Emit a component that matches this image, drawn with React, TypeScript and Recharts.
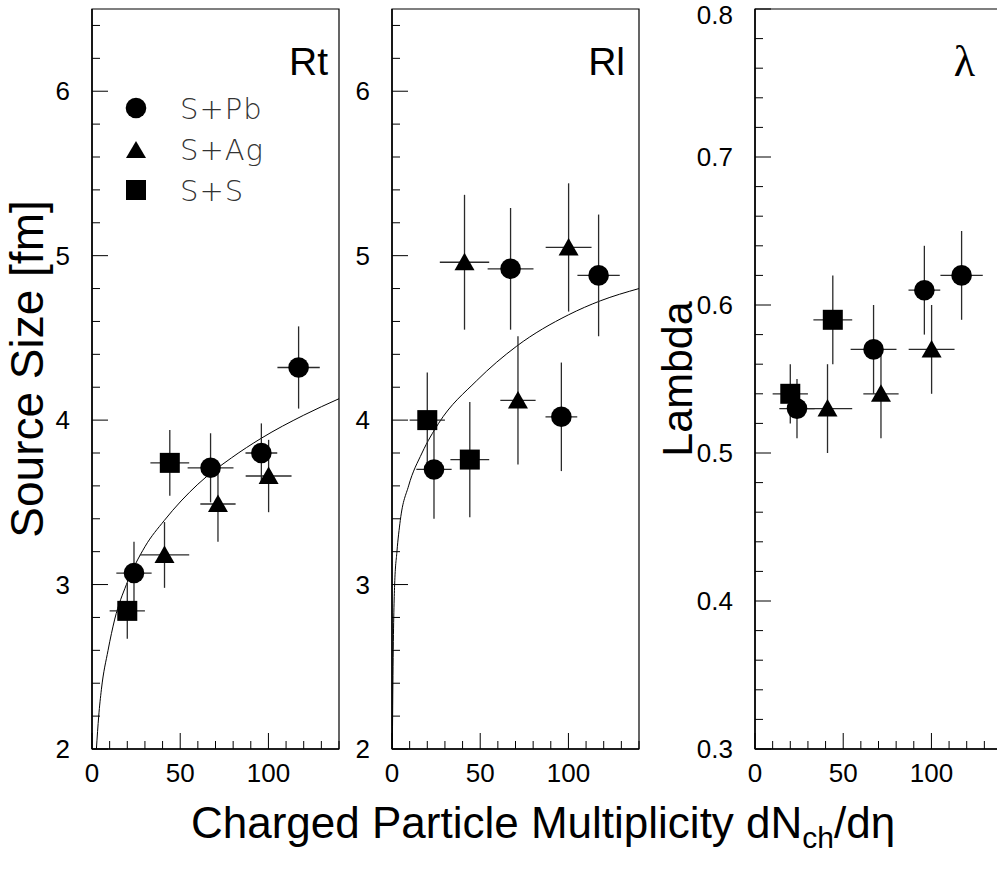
import React from 'react';
import { ComposedChart, Scatter, Line, XAxis, YAxis, ErrorBar, ReferenceArea } from 'recharts';

// multiplicity of each point, shared by the three panels
const pbX = [23.8, 67.2, 96.0, 117.1];
const pbXErr = [10, 13, 9, 12];
const agX = [41.1, 71.4, 100.1];
const agXErr = [14, 10, 13];
const ssX = [20.0, 44.1];
const ssXErr = [10, 11];

// Rt [fm]
const rtPb = [3.07, 3.71, 3.8, 4.32];
const rtPbErr = [0.19, 0.21, 0.18, 0.25];
const rtAg = [3.18, 3.49, 3.66];
const rtAgErr = [0.2, 0.23, 0.22];
const rtSS = [2.84, 3.74];
const rtSSErr = [0.17, 0.2];

// Rl [fm]
const rlPb = [3.7, 4.92, 4.02, 4.88];
const rlPbErr = [0.3, 0.37, 0.33, 0.37];
const rlAg = [4.96, 4.12, 5.05];
const rlAgErr = [0.41, 0.39, 0.39];
const rlSS = [4.0, 3.76];
const rlSSErr = [0.29, 0.35];

// lambda
const lamPb = [0.53, 0.57, 0.61, 0.62];
const lamPbErr = [0.02, 0.03, 0.03, 0.03];
const lamAg = [0.53, 0.54, 0.57];
const lamAgErr = [0.03, 0.03, 0.03];
const lamSS = [0.54, 0.59];
const lamSSErr = [0.02, 0.03];

// fit curves
const rtFitX = [2.5, 3.8, 5.3, 9.1, 12.9, 19.5, 30, 41, 60, 79, 96, 120, 140];
const rtFitY = [2.0, 2.2, 2.36, 2.6, 2.79, 3.0, 3.23, 3.39, 3.61, 3.77, 3.89, 4.03, 4.13];
const rlFitX = [0.2, 0.6, 1.5, 2.8, 4.7, 9.4, 17, 26.4, 48, 70.7, 100, 118, 140];
const rlFitY = [2.0, 2.5, 3.0, 3.2, 3.39, 3.6, 3.8, 3.98, 4.24, 4.45, 4.64, 4.725, 4.8];

// axis ticks
const xMajor = [0, 50, 100];
const xLabels = ['0', '50', '100'];
const rMajor = [2, 3, 4, 5, 6];
const rLabels = ['2', '3', '4', '5', '6'];
const lamMajor = [0.3, 0.4, 0.5, 0.6, 0.7, 0.8];
const lamLabels = ['0.3', '0.4', '0.5', '0.6', '0.7', '0.8'];

const legendNames = ['S+Pb', 'S+Ag', 'S+S'];

const steps = (from: number, to: number, step: number) => {
  const out: number[] = [];
  for (let i = 0; from + i * step <= to + 1e-9; i++) out.push(+(from + i * step).toFixed(4));
  return out;
};
const xTicks = steps(0, 140, 10);
const rTicks = steps(2, 6.4, 0.2);
const lamTicks = steps(0.3, 0.8, 0.02);

const pts = (xs: number[], exs: number[], ys: number[], eys: number[]) =>
  xs.map((x, i) => ({ x, ex: exs[i], y: ys[i], ey: eys[i] }));
const curve = (xs: number[], ys: number[]) => xs.map((x, i) => ({ x, y: ys[i] }));

const FONT = '"Liberation Sans", Arial, Helvetica, sans-serif';

const Dot = (p: any) => <circle cx={p.cx} cy={p.cy} r={10.3} fill="#000" />;
const Tri = (p: any) => (
  <polygon
    points={`${p.cx - 10},${p.cy + 8} ${p.cx + 10},${p.cy + 8} ${p.cx},${p.cy - 9.5}`}
    fill="#000"
  />
);
const Sq = (p: any) => <rect x={p.cx - 10} y={p.cy - 10} width={20} height={20} fill="#000" />;

const findMajor = (v: number, majors: number[]) => majors.findIndex((m) => Math.abs(m - v) < 1e-6);

const YTick = (props: any) => {
  const { x, y, payload, majors, labels } = props;
  const idx = findMajor(payload.value, majors);
  return (
    <g>
      <line x1={x} x2={x + (idx >= 0 ? 16 : 8)} y1={y} y2={y} stroke="#000" strokeWidth={1} />
      {idx >= 0 && (
        <text
          x={x - 22}
          y={Math.max(y + 9, 24)}
          textAnchor="end"
          fontSize={26}
          fontFamily={FONT}
          fill="#000"
        >
          {labels[idx]}
        </text>
      )}
    </g>
  );
};

const XTick = (props: any) => {
  const { x, y, payload } = props;
  const idx = findMajor(payload.value, xMajor);
  return (
    <g>
      <line x1={x} x2={x} y1={y} y2={y - (idx >= 0 ? 16 : 8)} stroke="#000" strokeWidth={1} />
      {idx >= 0 && (
        <text x={x} y={y + 33} textAnchor="middle" fontSize={26} fontFamily={FONT} fill="#000">
          {xLabels[idx]}
        </text>
      )}
    </g>
  );
};

type PanelProps = {
  left: number;
  width: number;
  margin: { top: number; right: number; bottom: number; left: number };
  yDomain: [number, number];
  yTicks: number[];
  yMajor: number[];
  yLabels: string[];
  pb: any[];
  ag: any[];
  ss: any[];
  fit?: any[];
};

const bar = { stroke: '#2a2a2a', strokeWidth: 1.3 };

function Panel(p: PanelProps) {
  return (
    <div style={{ position: 'absolute', left: p.left, top: 0 }}>
      <ComposedChart width={p.width} height={869} margin={p.margin}>
        <XAxis
          type="number"
          dataKey="x"
          domain={[0, 140]}
          ticks={xTicks}
          interval={0}
          allowDataOverflow
          height={40}
          tickSize={0}
          tickMargin={0}
          tickLine={false}
          axisLine={{ stroke: '#000', strokeWidth: 1.5 }}
          tick={(t: any) => <XTick {...t} />}
        />
        <YAxis
          type="number"
          dataKey="y"
          domain={p.yDomain}
          ticks={p.yTicks}
          interval={0}
          allowDataOverflow
          width={60}
          tickSize={0}
          tickMargin={0}
          tickLine={false}
          axisLine={{ stroke: '#000', strokeWidth: 1.5 }}
          tick={(t: any) => <YTick {...t} majors={p.yMajor} labels={p.yLabels} />}
        />
        <ReferenceArea
          x1={0}
          x2={140}
          y1={p.yDomain[0]}
          y2={p.yDomain[1]}
          fill="none"
          stroke="#000"
          strokeWidth={1.2}
          ifOverflow="visible"
        />
        {p.fit && (
          <Line
            data={p.fit}
            dataKey="y"
            type="monotone"
            stroke="#000"
            strokeWidth={1}
            dot={false}
            activeDot={false}
            isAnimationActive={false}
          />
        )}
        <Scatter name="S+S" data={p.ss} shape={Sq} isAnimationActive={false}>
          <ErrorBar dataKey="ex" direction="x" width={0} {...bar} />
          <ErrorBar dataKey="ey" direction="y" width={0} {...bar} />
        </Scatter>
        <Scatter name="S+Ag" data={p.ag} shape={Tri} isAnimationActive={false}>
          <ErrorBar dataKey="ex" direction="x" width={0} {...bar} />
          <ErrorBar dataKey="ey" direction="y" width={0} {...bar} />
        </Scatter>
        <Scatter name="S+Pb" data={p.pb} shape={Dot} isAnimationActive={false}>
          <ErrorBar dataKey="ex" direction="x" width={0} {...bar} />
          <ErrorBar dataKey="ey" direction="y" width={0} {...bar} />
        </Scatter>
      </ComposedChart>
    </div>
  );
}

export default function App() {
  const legendShapes = [
    <circle key="c" cx={136} cy={108} r={10.3} fill="#000" />,
    <polygon key="t" points="126,158 146,158 136,141" fill="#000" />,
    <rect key="s" x={126} y={180} width={20} height={20} fill="#000" />,
  ];
  const legendBase = [119, 160, 201];
  return (
    <div
      style={{
        position: 'absolute',
        left: 0,
        top: 0,
        width: 997,
        height: 869,
        overflow: 'hidden',
        background: '#fff',
        fontFamily: FONT,
      }}
    >
      <Panel
        left={0}
        width={360}
        margin={{ top: 9, right: 21, bottom: 80, left: 32 }}
        yDomain={[2, 6.5]}
        yTicks={rTicks}
        yMajor={rMajor}
        yLabels={rLabels}
        pb={pts(pbX, pbXErr, rtPb, rtPbErr)}
        ag={pts(agX, agXErr, rtAg, rtAgErr)}
        ss={pts(ssX, ssXErr, rtSS, rtSSErr)}
        fit={curve(rtFitX, rtFitY)}
      />
      <Panel
        left={332}
        width={330}
        margin={{ top: 9, right: 23, bottom: 80, left: 0 }}
        yDomain={[2, 6.5]}
        yTicks={rTicks}
        yMajor={rMajor}
        yLabels={rLabels}
        pb={pts(pbX, pbXErr, rlPb, rlPbErr)}
        ag={pts(agX, agXErr, rlAg, rlAgErr)}
        ss={pts(ssX, ssXErr, rlSS, rlSSErr)}
        fit={curve(rlFitX, rlFitY)}
      />
      <Panel
        left={685}
        width={340}
        margin={{ top: 9, right: 23, bottom: 80, left: 10 }}
        yDomain={[0.3, 0.8]}
        yTicks={lamTicks}
        yMajor={lamMajor}
        yLabels={lamLabels}
        pb={pts(pbX, pbXErr, lamPb, lamPbErr)}
        ag={pts(agX, agXErr, lamAg, lamAgErr)}
        ss={pts(ssX, ssXErr, lamSS, lamSSErr)}
      />
      <svg
        width={997}
        height={869}
        style={{ position: 'absolute', left: 0, top: 0, pointerEvents: 'none' }}
      >
        <text x={328} y={75} textAnchor="end" fontSize={39} fill="#000">
          Rt
        </text>
        <text x={625} y={75} textAnchor="end" fontSize={39} fill="#000">
          Rl
        </text>
        <text
          x={975}
          y={76}
          textAnchor="end"
          fontSize={44}
          fill="#000"
          fontFamily='"Liberation Serif", "Times New Roman", serif'
        >
          λ
        </text>
        {legendShapes}
        {legendNames.map((n, i) => (
          <text
            key={n}
            x={180}
            y={legendBase[i]}
            fontSize={29}
            letterSpacing={1}
            fill="#333"
            fontWeight={200}
            fontFamily='"DejaVu Sans", sans-serif'
          >
            {n}
          </text>
        ))}
        <text transform="translate(43,369) rotate(-90)" textAnchor="middle" fontSize={46} fill="#000">
          Source Size [fm]
        </text>
        <text transform="translate(692,379) rotate(-90)" textAnchor="middle" fontSize={43} fill="#000">
          Lambda
        </text>
        <text x={191} y={838} fontSize={44} fill="#000">
          Charged Particle Multiplicity dN
          <tspan fontSize={30} dy={10}>
            ch
          </tspan>
          <tspan dy={-10}>/dη</tspan>
        </text>
      </svg>
    </div>
  );
}
